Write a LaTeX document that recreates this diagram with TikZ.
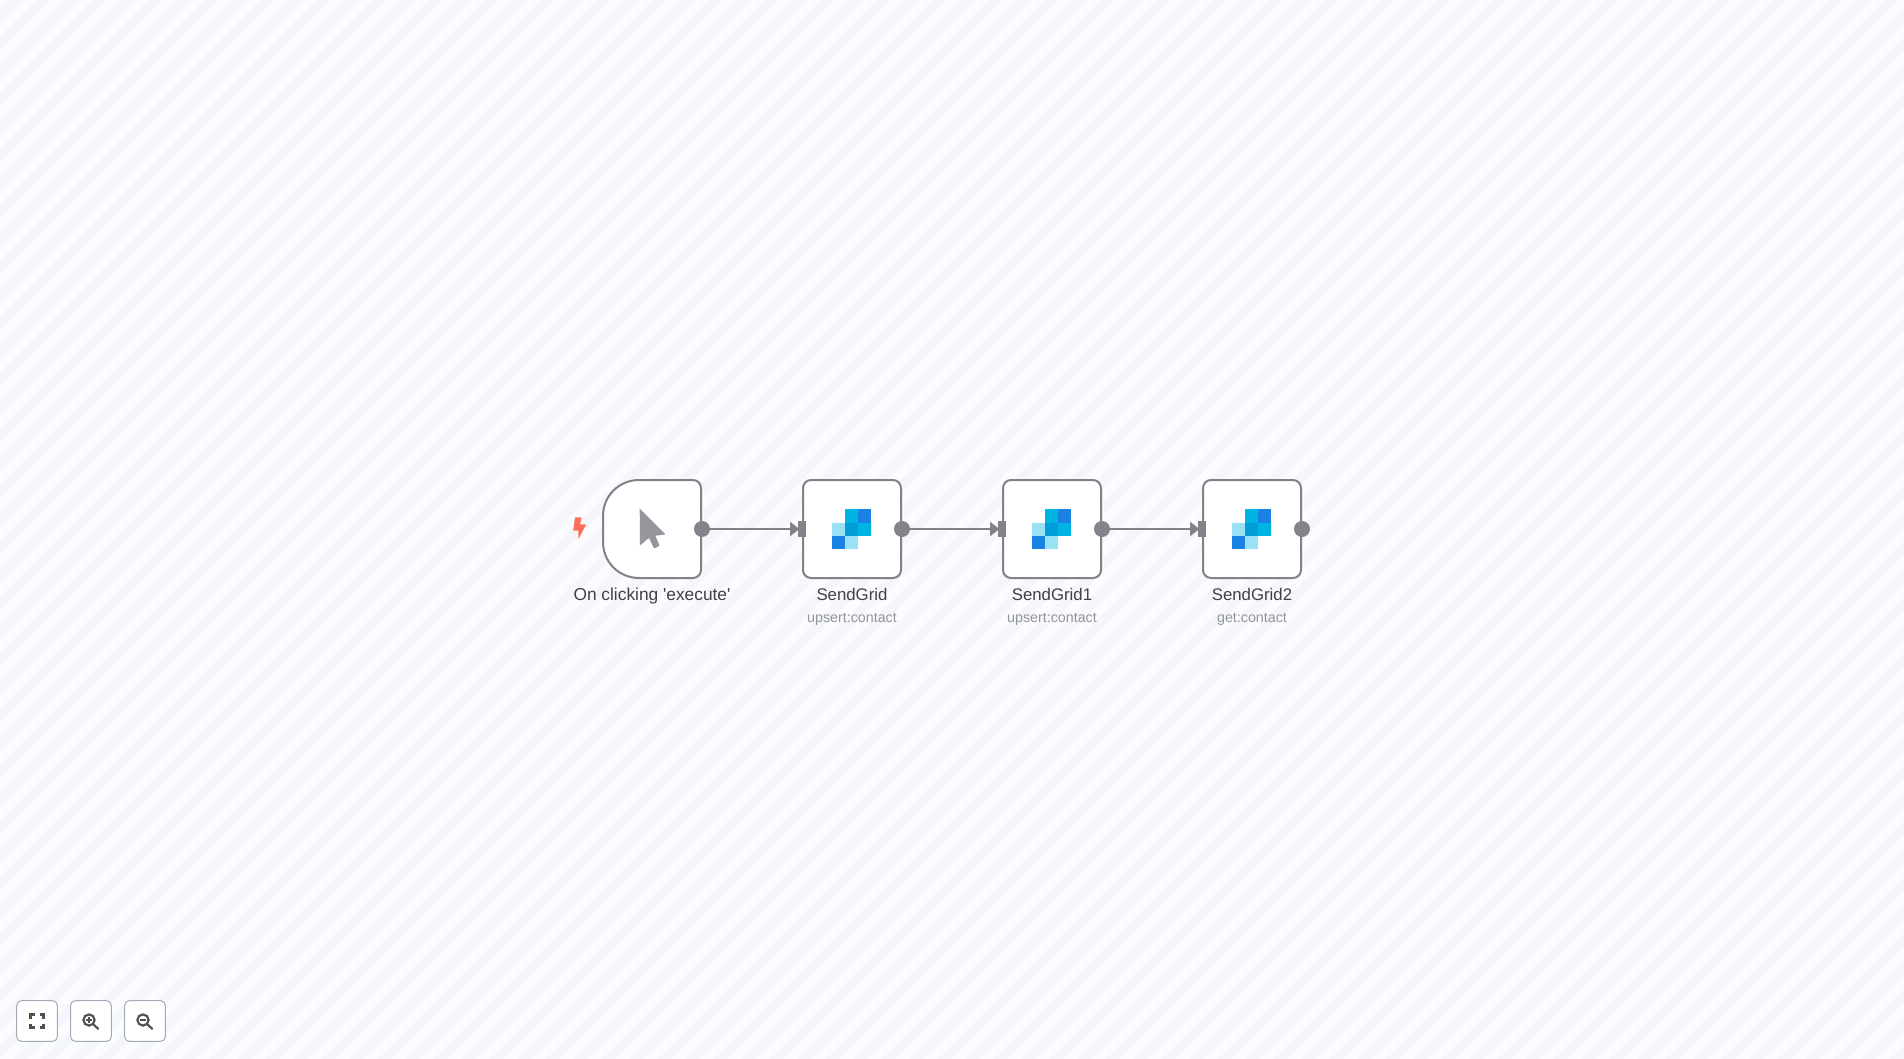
\documentclass[tikz,border=0pt]{standalone}
\usepackage{fontspec}
\setmainfont{Liberation Sans}
\usetikzlibrary{arrows.meta}
\definecolor{bglight}{RGB}{251,252,255}
\definecolor{bgdark}{RGB}{245,246,252}
\definecolor{edgegrey}{RGB}{128,129,137}
\definecolor{portgrey}{RGB}{130,132,138}
\definecolor{labeltext}{RGB}{64,65,72}
\definecolor{subtext}{RGB}{146,148,155}
\definecolor{sgdark}{RGB}{26,130,226}
\definecolor{sgmid}{RGB}{0,179,227}
\definecolor{sgdeep}{RGB}{0,157,217}
\definecolor{sgpale}{RGB}{153,225,244}
\definecolor{boltred}{RGB}{255,109,90}
\definecolor{cursorgrey}{RGB}{150,151,156}
\definecolor{btnborder}{RGB}{165,171,185}
\definecolor{btnicon}{RGB}{80,80,84}
\tikzset{
  x=0.75pt,y=-0.75pt,
  nodebox/.style={draw=edgegrey,line width=1.5pt,fill=white,rounded corners=6pt,minimum size=73.5pt,inner sep=0pt},
  outport/.style={circle,fill=portgrey,minimum size=12pt,inner sep=0pt},
  inport/.style={rectangle,fill=portgrey,minimum width=6pt,minimum height=12pt,inner sep=0pt},
  wire/.style={draw=edgegrey,line width=1.6pt,shorten >=-1.2pt,-{Triangle[length=7pt,width=10.5pt]}},
  titletext/.style={anchor=base,text=labeltext,font=\fontsize{12.6}{14}\selectfont,inner sep=0pt},
  widetitle/.style={titletext,font=\fontsize{13}{14}\selectfont},
  subtitletext/.style={anchor=base,text=subtext,font=\fontsize{10.7}{12}\selectfont,inner sep=0pt},
  btnbox/.style={draw=btnborder,line width=0.75pt,fill=white,rounded corners=3.5pt,minimum size=30.5pt,inner sep=0pt},
  btnstroke/.style={draw=btnicon,line width=1.6pt},
}
\newcommand{\sgicon}[1]{%
  \begin{scope}[shift={(#1,529)}]
    \fill[sgmid]  (-6.5,-19.7) rectangle (6.5,-6.5);
    \fill[sgdark] (6.5,-19.7) rectangle (19.5,-6.5);
    \fill[sgpale] (-19.5,-6.5) rectangle (-6.5,6.5);
    \fill[sgdeep] (-6.5,-6.5) rectangle (6.5,6.5);
    \fill[sgmid]  (6.5,-6.5) rectangle (19.5,6.5);
    \fill[sgdark] (-19.5,6.5) rectangle (-6.5,19.7);
    \fill[sgpale] (-6.5,6.5) rectangle (6.5,19.7);
  \end{scope}}
\newcommand{\lens}[1]{%
  \draw[btnstroke] (#1,1020) circle (5.6);
  \draw[btnstroke,line cap=round] (#1+4.2,1024.2) -- (#1+9.2,1028.8);}
\begin{document}
\begin{tikzpicture}
\useasboundingbox (0,0) rectangle (1904,1059);
\fill[bglight] (0,0) rectangle (1904,1059);
\begin{scope}
  \clip (0,0) rectangle (1904,1059);
  \foreach \i in {0,...,106}{
    \pgfmathsetmacro{\c}{8.5+28*\i}
    \fill[bgdark] (\c,0) -- (\c+14,0) -- (\c+14-1059,1059) -- (\c-1059,1059) -- cycle;
  }
\end{scope}
% trigger node
\draw[draw=edgegrey,line width=1.5pt,fill=white]
  (639,480) -- (693,480) .. controls (697.4,480) and (701,483.6) .. (701,488)
  -- (701,570) .. controls (701,574.4) and (697.4,578) .. (693,578)
  -- (639,578) .. controls (619,578) and (603,562) .. (603,542)
  -- (603,516) .. controls (603,496) and (619,480) .. (639,480) -- cycle;
\node[nodebox,draw=none,fill=none] (trigger) at (652,529) {};
\fill[cursorgrey,rounded corners=0.3pt] (639.7,508.5) -- (665.5,534.5) -- (655.3,535.7) -- (659.6,545.7) -- (654,548.5) -- (649,537.9) -- (640,545.5) -- cycle;
\fill[boltred] (575,517.3) -- (581.7,517.3) -- (580,524.3) -- (586.3,524.3) -- (578.3,539.3) -- (578.3,530.7) -- (573.3,530.7) -- cycle;
% sendgrid nodes
\node[nodebox] (sg0) at (852,529) {};
\node[nodebox] (sg1) at (1052,529) {};
\node[nodebox] (sg2) at (1252,529) {};
\sgicon{851.7}\sgicon{1051.7}\sgicon{1251.7}
% ports
\node[outport] (o0) at (702,529) {};
\node[outport] (o1) at (902,529) {};
\node[outport] (o2) at (1102,529) {};
\node[outport] (o3) at (1302,529) {};
\node[inport] (i1) at (802,529) {};
\node[inport] (i2) at (1002,529) {};
\node[inport] (i3) at (1202,529) {};
% connectors
\draw[wire] (o0) -- (i1);
\draw[wire] (o1) -- (i2);
\draw[wire] (o2) -- (i3);
% labels
\node[widetitle] (t0) at (652,600.9) {On clicking \textquotesingle execute\textquotesingle};
\node[titletext] (t1) at (852,600.9) {SendGrid};
\node[titletext] (t2) at (1052,600.9) {SendGrid1};
\node[titletext] (t3) at (1252,600.9) {SendGrid2};
\node[subtitletext] (s1) at (852,622) {upsert:contact};
\node[subtitletext] (s2) at (1052,622) {upsert:contact};
\node[subtitletext] (s3) at (1252,622) {get:contact};
% toolbar
\node[btnbox] (fit) at (37,1021) {};
\node[btnbox] (zoomin) at (91,1021) {};
\node[btnbox] (zoomout) at (145,1021) {};
\draw[btnstroke] (30.5,1018.5) -- (30.5,1014.5) -- (34.5,1014.5);
\draw[btnstroke] (39.5,1014.5) -- (43.5,1014.5) -- (43.5,1018.5);
\draw[btnstroke] (43.5,1023.5) -- (43.5,1027.5) -- (39.5,1027.5);
\draw[btnstroke] (34.5,1027.5) -- (30.5,1027.5) -- (30.5,1023.5);
\lens{89}
\lens{143}
\draw[btnstroke,line width=1.2pt] (86,1020) -- (92,1020) (89,1017) -- (89,1023);
\draw[btnstroke,line width=1.2pt] (140,1020) -- (146,1020);
\end{tikzpicture}
\end{document}
